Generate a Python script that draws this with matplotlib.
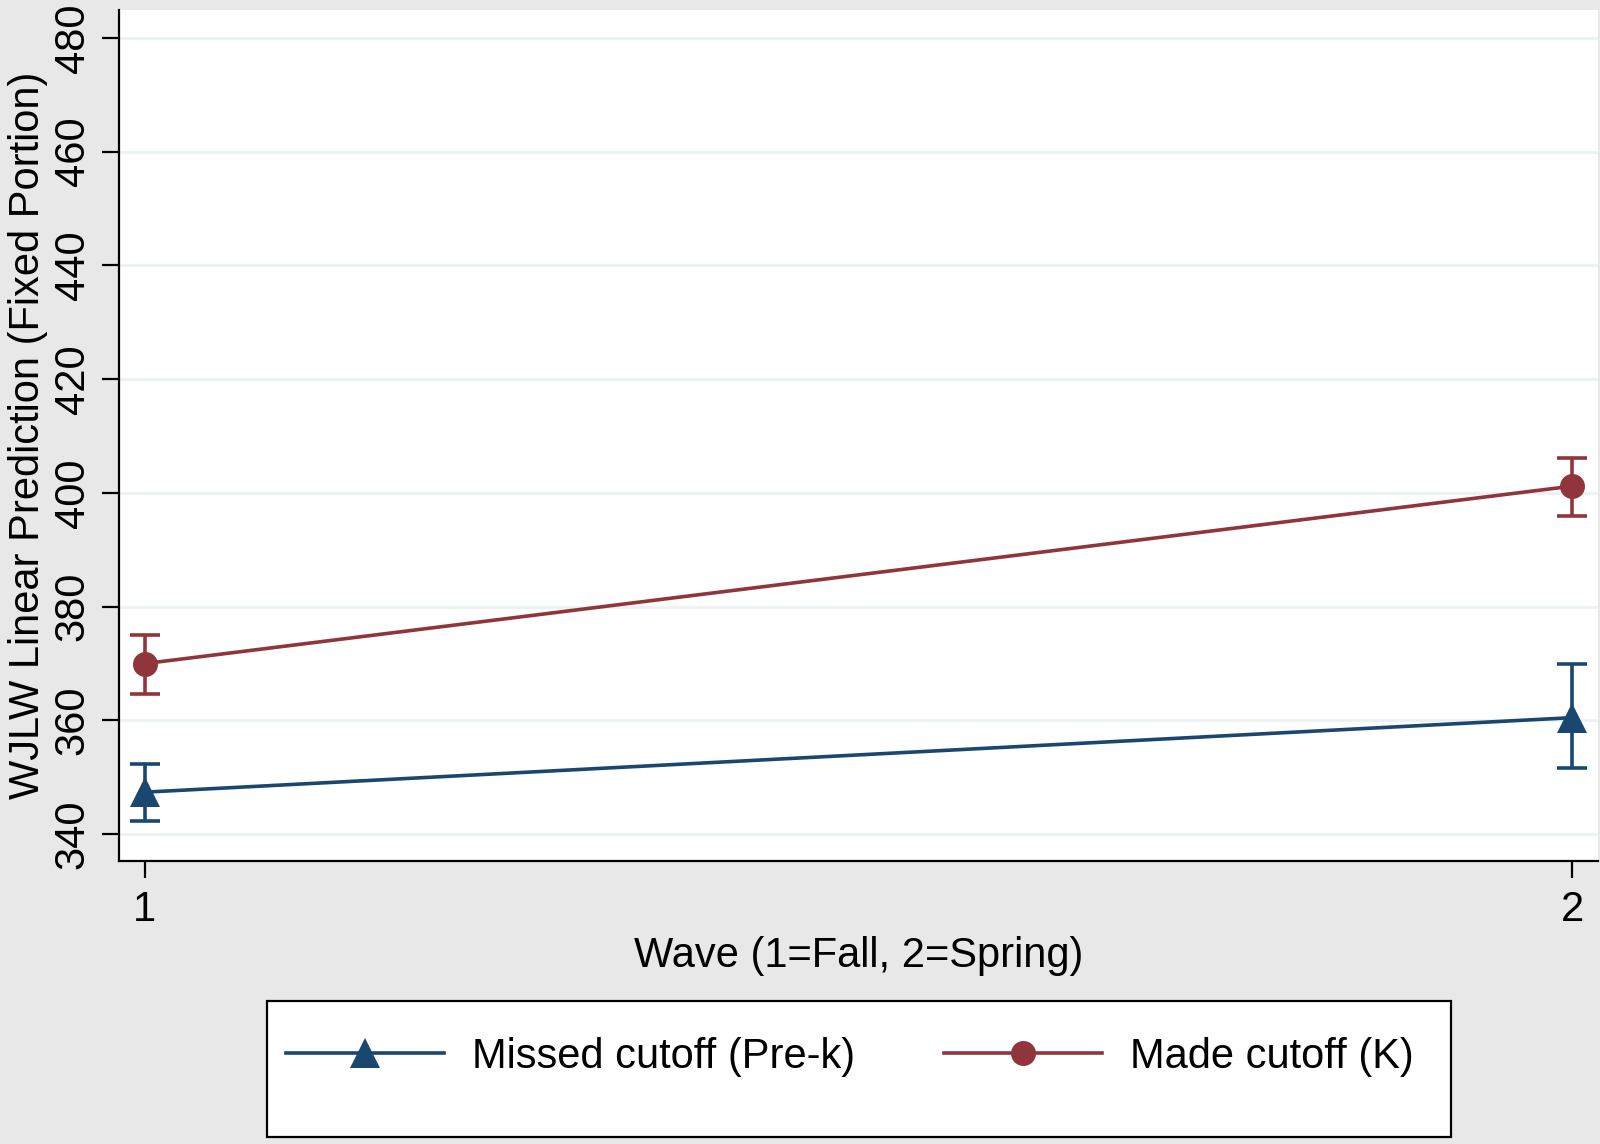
import matplotlib
matplotlib.use("Agg")
import matplotlib.pyplot as plt
from matplotlib.patches import Rectangle
import numpy as np

# ---- data ----
waves = [1, 2]
missed_mean = [347.4, 360.5]
missed_lo = [342.3, 351.6]
missed_hi = [352.3, 370.0]
made_mean = [370.0, 401.2]
made_lo = [364.6, 396.0]
made_hi = [375.1, 406.1]
yticks = [340, 360, 380, 400, 420, 440, 460, 480]
series_labels = ["Missed cutoff (Pre-k)", "Made cutoff (K)"]
xlabel = "Wave (1=Fall, 2=Spring)"
ylabel = "WJLW Linear Prediction (Fixed Portion)"

BLUE = "#1a476f"
RED = "#90353b"
BG = "#e8e8e8"
GRID = "#eaf2f3"

plt.rcParams['font.family'] = ['Liberation Sans', 'DejaVu Sans']

W, H = 1600, 1144
fig = plt.figure(figsize=(W / 100, H / 100), dpi=100, facecolor=BG)
ax = fig.add_axes([119 / W, 1 - 861 / H, (1598 - 119) / W, (861 - 10) / H])
ax.set_facecolor("white")

def draw(mean, lo, hi, color, marker, ms, label):
    m = np.array(mean); l = np.array(lo); h = np.array(hi)
    ax.errorbar(waves, m, yerr=[m - l, h - m], fmt="none", ecolor=color,
                elinewidth=2.6, capsize=11, capthick=2.6, zorder=3)
    ax.plot(waves, m, color=color, lw=2.6, marker=marker, ms=ms,
            markeredgewidth=0, label=label, zorder=4)

draw(missed_mean, missed_lo, missed_hi, BLUE, "^", 21, series_labels[0])
draw(made_mean, made_lo, made_hi, RED, "o", 18, series_labels[1])

ax.set_xlim(0.982, 2.018)
ax.set_ylim(335.3, 484.9)
ax.set_xticks(waves)
ax.set_xticklabels([str(w) for w in waves])
ax.set_yticks(yticks)
ax.set_yticklabels([str(t) for t in yticks], rotation=90, va="center")

for t in yticks:
    ax.axhline(t, color=GRID, lw=2, zorder=1)

for s in ["top", "right"]:
    ax.spines[s].set_visible(False)
for s in ["left", "bottom"]:
    ax.spines[s].set_linewidth(1.6)
    ax.spines[s].set_color("black")

ax.tick_params(axis="both", length=12, width=1.6, labelsize=30, color="black")
ax.tick_params(axis="x", pad=9)
ax.tick_params(axis="y", pad=7)

ax.set_xlabel(xlabel, fontsize=30, labelpad=4)
ax.set_ylabel(ylabel, fontsize=30, labelpad=3)

# legend box
fig.patches.append(Rectangle((267 / W, 1 - 1137 / H), (1451 - 267) / W, (1137 - 1001) / H,
                             transform=fig.transFigure, facecolor="white",
                             edgecolor="black", linewidth=1.6, zorder=0))
leg = fig.legend(loc="center", bbox_to_anchor=(850 / W, 1 - 1057 / H),
                 ncol=2, fontsize=30, frameon=False,
                 handlelength=3.8, handletextpad=0.67, borderpad=0,
                 borderaxespad=0, columnspacing=2.13)

fig.savefig("out.png", dpi=100, facecolor=BG)
